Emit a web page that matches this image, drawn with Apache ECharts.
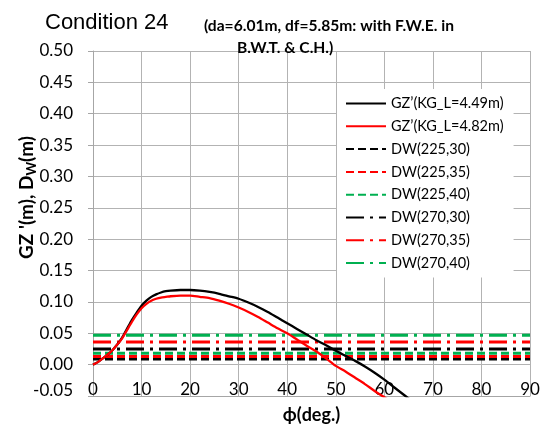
<!DOCTYPE html>
<html>
<head>
<meta charset="utf-8">
<script src="https://cdn.jsdelivr.net/npm/echarts@6/dist/echarts.min.js"></script>
<style>
  html, body { margin: 0; padding: 0; background: #fff; }
  #chart { width: 541px; height: 430px; }
</style>
</head>
<body>
<div id="chart"></div>
<script>
// Heel angle (deg.)
const phiDeg = [0, 1, 2, 3, 4, 5, 6, 7, 8, 9, 10, 11, 12, 13, 14, 15, 16, 18, 20, 22, 24, 26, 28, 30,
  32, 34, 36, 38, 40, 42, 44, 46, 48, 50, 52, 54, 56, 58, 60, 62, 64, 66];

// GZ' curve, KG_L = 4.49 m
const gzKg449 = [0.000, 0.004, 0.010, 0.016, 0.023, 0.032, 0.043, 0.057, 0.071, 0.083, 0.094, 0.102,
  0.108, 0.112, 0.115, 0.117, 0.118, 0.119, 0.119, 0.118, 0.116, 0.113, 0.109, 0.105,
  0.099, 0.092, 0.084, 0.075, 0.066, 0.057, 0.048, 0.039, 0.031, 0.022, 0.014, 0.006,
  -0.003, -0.013, -0.024, -0.036, -0.048, -0.060];

// GZ' curve, KG_L = 4.82 m
const gzKg482 = [0.000, 0.004, 0.010, 0.016, 0.023, 0.032, 0.042, 0.055, 0.068, 0.080, 0.090, 0.097,
  0.102, 0.105, 0.107, 0.108, 0.109, 0.110, 0.110, 0.108, 0.106, 0.102, 0.097, 0.091,
  0.084, 0.076, 0.067, 0.058, 0.050, 0.040, 0.030, 0.021, 0.010, -0.002, -0.011, -0.021,
  -0.031, -0.042, -0.052, -0.062, null, null];

// Wind heeling lever D_W for each (area, wind speed) case
const dwNames = ['DW(225,30)', 'DW(225,35)', 'DW(225,40)', 'DW(270,30)', 'DW(270,35)', 'DW(270,40)'];
const dwValues = [0.009, 0.013, 0.018, 0.025, 0.036, 0.047];

const xTicks = [0, 90, 10];          // min, max, step
const yTicks = [-0.05, 0.50, 0.05];  // min, max, step

const gzNames = ['GZ\u2019(KG_L=4.49m)', 'GZ\u2019(KG_L=4.82m)'];

const dwColors = ['#000000', '#ff0000', '#00b050', '#000000', '#ff0000', '#00b050'];
const dwDash = [[8, 4], [8, 4], [8, 4], [18, 6, 3, 6], [18, 6, 3, 6], [18, 6, 3, 6]];

const labelFont = 'Lato, "Noto Sans", sans-serif';

const series = [];
[gzKg449, gzKg482].forEach((vals, i) => {
  series.push({
    name: gzNames[i],
    type: 'line',
    data: phiDeg.map((p, k) => [p, vals[k]]),
    symbol: 'none',
    smooth: 0.25,
    connectNulls: false,
    z: 4,
    lineStyle: { color: i === 0 ? '#000000' : '#ff0000', width: 2.3 },
    itemStyle: { color: i === 0 ? '#000000' : '#ff0000' }
  });
});
dwValues.forEach((v, i) => {
  series.push({
    name: dwNames[i],
    type: 'line',
    data: [[xTicks[0], v], [xTicks[1], v]],
    symbol: 'none',
    z: 3,
    lineStyle: { color: dwColors[i], width: 3, type: dwDash[i] },
    itemStyle: { color: dwColors[i] }
  });
});

const chart = echarts.init(document.getElementById('chart'), null, { renderer: 'canvas' });
chart.setOption({
  animation: false,
  backgroundColor: '#ffffff',
  title: [
    {
      text: 'Condition 24',
      left: 40, top: 7,
      textStyle: { fontFamily: '"Liberation Sans", Arial, sans-serif', fontSize: 22, fontWeight: 'normal', color: '#000' }
    },
    {
      text: '(da=6.01m, df=5.85m: with F.W.E. in',
      left: 199, top: 13,
      textStyle: { fontFamily: labelFont, fontSize: 15.6, fontWeight: 'bold', color: '#000' }
    },
    {
      text: 'B.W.T. & C.H.)',
      left: 232, top: 35,
      textStyle: { fontFamily: labelFont, fontSize: 15.6, fontWeight: 'bold', color: '#000' }
    }
  ],
  grid: { left: 93, right: 11, top: 51, bottom: 34, containLabel: false, outerBoundsMode: 'none' },
  legend: {
    orient: 'vertical',
    left: 337, top: 89,
    width: 193,
    backgroundColor: '#ffffff',
    padding: [7, 10, 7, 8],
    itemWidth: 40, itemHeight: 14,
    itemGap: 7.8,
    itemStyle: { opacity: 0 },
    textStyle: { fontFamily: labelFont, fontSize: 14.5, color: '#000' },
    data: gzNames.concat(dwNames)
  },
  xAxis: {
    type: 'value',
    min: xTicks[0], max: xTicks[1], interval: xTicks[2],
    name: '\u03d5(deg.)',
    nameLocation: 'middle',
    nameGap: 10,
    nameMoveOverlap: false,
    nameTextStyle: { fontFamily: labelFont, fontSize: 18, fontWeight: 'bold', color: '#000' },
    axisLine: { show: true, onZero: false, lineStyle: { color: '#a6a6a6', width: 1 } },
    axisTick: { show: false },
    axisLabel: { margin: -15, fontFamily: labelFont, fontSize: 17, color: '#000' },
    splitLine: { show: true, lineStyle: { color: '#b3b3b3', width: 1 } }
  },
  yAxis: {
    type: 'value',
    min: yTicks[0], max: yTicks[1], interval: yTicks[2],
    name: '{a|GZ \'(m), D}{s|W}{a|(m)}',
    nameLocation: 'middle',
    nameGap: 55,
    nameMoveOverlap: false,
    nameTextStyle: {
      padding: [0, 0, 0, 52],
      rich: {
        a: { fontFamily: labelFont, fontSize: 19, fontWeight: 'bold', color: '#000' },
        s: { fontFamily: labelFont, fontSize: 13, fontWeight: 'bold', color: '#000', verticalAlign: 'bottom', padding: [9, 0, 0, 0] }
      }
    },
    axisLine: { show: true, lineStyle: { color: '#a6a6a6', width: 1 } },
    axisTick: { show: true, length: 5, lineStyle: { color: '#a6a6a6' } },
    axisLabel: {
      margin: 20,
      fontFamily: labelFont, fontSize: 17, color: '#000',
      formatter: v => (Math.abs(v - yTicks[0]) < 1e-9 ? '{lo|' + v.toFixed(2) + '}' : v.toFixed(2)),
      rich: { lo: { fontFamily: labelFont, fontSize: 17, color: '#000', padding: [0, 0, 10, 0] } }
    },
    splitLine: { show: true, lineStyle: { color: '#b3b3b3', width: 1 } }
  },
  series: series
});
</script>
</body>
</html>
